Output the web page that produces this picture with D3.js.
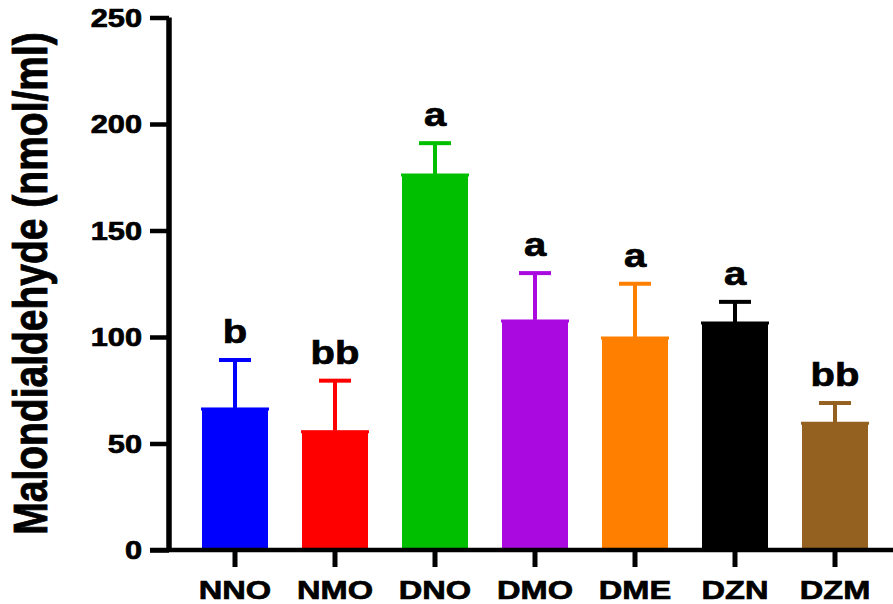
<!DOCTYPE html>
<html><head><meta charset="utf-8">
<script src="https://cdn.jsdelivr.net/npm/d3@7"></script>
<style>html,body{margin:0;padding:0;background:#fff}svg{display:block}text{font-family:"Liberation Sans",Arial,sans-serif;font-weight:bold;fill:#000;stroke:#000;stroke-width:0.7px}</style>
</head><body>
<svg id="c" width="893" height="604"></svg>
<script>
const categories = ["NNO","NMO","DNO","DMO","DME","DZN","DZM"];
const means = [66.7, 56, 176.5, 108, 100, 107, 60];
const errors = [22.5, 23.5, 14.5, 22, 25, 9.5, 9];
const letters = ["b","bb","a","a","a","a","bb"];
const colors = ["#0000FF","#FF0000","#00BF00","#AA0ADF","#FF8000","#000000","#956120"];
const yTicks = [0,50,100,150,200,250];
const yTitle = "Malondialdehyde (nmol/ml)";

const sx = 1.23; // horizontal stretch of text
const svg = d3.select("#c");
const x = d3.scaleBand().domain(categories).range([185,885]).paddingInner(0.34).paddingOuter(0.17);
const y = d3.scaleLinear().domain([0,250]).range([550,17.5]);
const axisX = 169;

// bars
svg.selectAll("rect.bar").data(categories).enter().append("rect")
  .attr("x", d=>x(d)).attr("width", x.bandwidth())
  .attr("y", (d,i)=>y(means[i])).attr("height",(d,i)=>y(0)-y(means[i]))
  .attr("fill",(d,i)=>colors[i]);
// top edge stroke
svg.selectAll("line.top").data(categories).enter().append("line")
  .attr("x1", d=>x(d)-1).attr("x2", d=>x(d)+x.bandwidth()+1)
  .attr("y1",(d,i)=>y(means[i])+1).attr("y2",(d,i)=>y(means[i])+1)
  .attr("stroke",(d,i)=>colors[i]).attr("stroke-width",3);
// error bars
const cx = d=>x(d)+x.bandwidth()/2;
svg.selectAll("line.err").data(categories).enter().append("line")
  .attr("x1",cx).attr("x2",cx)
  .attr("y1",(d,i)=>y(means[i])).attr("y2",(d,i)=>y(means[i]+errors[i]))
  .attr("stroke",(d,i)=>colors[i]).attr("stroke-width",4);
svg.selectAll("line.cap").data(categories).enter().append("line")
  .attr("x1",d=>cx(d)-16).attr("x2",d=>cx(d)+16)
  .attr("y1",(d,i)=>y(means[i]+errors[i])).attr("y2",(d,i)=>y(means[i]+errors[i]))
  .attr("stroke",(d,i)=>colors[i]).attr("stroke-width",4);
// letters
svg.selectAll("text.lab").data(categories).enter().append("text")
  .attr("transform",(d,i)=>`translate(${cx(d)},${y(means[i]+errors[i])-17}) scale(${sx},1)`)
  .attr("text-anchor","middle").attr("font-size",32.5).text((d,i)=>letters[i]);

// y axis
const yAxis = d3.axisLeft(y).tickValues(yTicks).tickSize(19).tickPadding(8).tickSizeOuter(0);
const gy = svg.append("g").attr("transform",`translate(${axisX},0)`).call(yAxis);
gy.select(".domain").attr("stroke","#000").attr("stroke-width",5.5);
gy.selectAll(".tick line").attr("stroke","#000").attr("stroke-width",4.5);
gy.selectAll(".tick text").attr("font-size",25).attr("fill","#000")
  .attr("font-family",'"Liberation Sans",Arial,sans-serif').attr("font-weight","bold")
  .attr("x",null).attr("dy",null)
  .attr("transform",`translate(-27,0) scale(${sx},1)`).attr("dy","0.35em");
gy.select(".domain").attr("d",`M0,${y(250)}V${y(0)+2}`);

// x axis
const xAxis = d3.axisBottom(x).tickSize(17).tickPadding(8).tickSizeOuter(0);
const gx = svg.append("g").attr("transform",`translate(0,550)`).call(xAxis);
gx.select(".domain").attr("d",`M150,0H893`).attr("stroke","#000").attr("stroke-width",4.5);
gx.selectAll(".tick line").attr("stroke","#000").attr("stroke-width",5);
gx.selectAll(".tick text").attr("font-size",26.5).attr("fill","#000")
  .attr("font-family",'"Liberation Sans",Arial,sans-serif').attr("font-weight","bold")
  .attr("y",null).attr("dy",null)
  .attr("transform",`translate(0,48.5) scale(${sx},1)`);

// y title
svg.append("text").attr("transform",`translate(47,${(30+537)/2}) rotate(-90) scale(1,${sx})`)
  .attr("text-anchor","middle").attr("font-size",39).text(yTitle);
</script>
</body></html>
